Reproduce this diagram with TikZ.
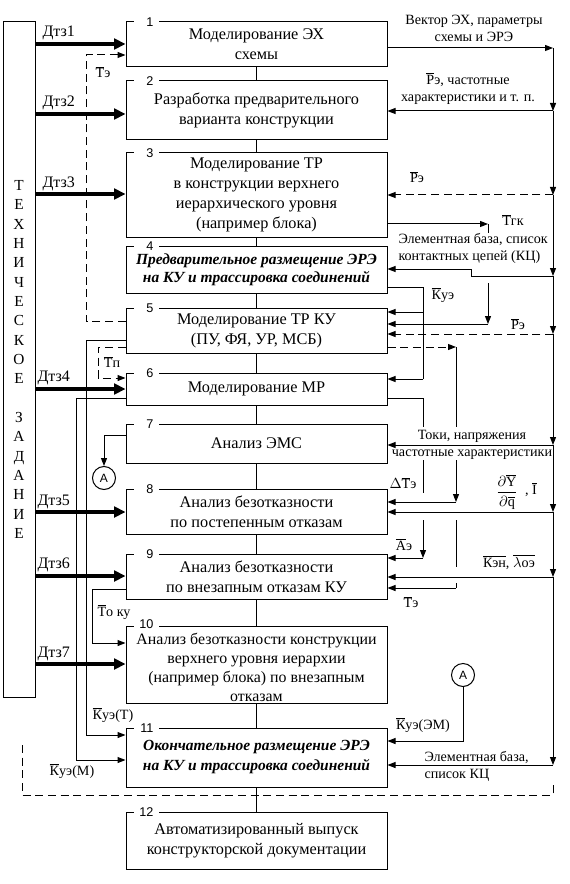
\documentclass[tikz,border=0pt]{standalone}
\usepackage{fontspec}
\setmainfont{Liberation Serif}
\newfontfamily\sansfnt{Liberation Sans}
\usetikzlibrary{arrows.meta}
\newcommand\ovl[1]{$\overline{\hbox{#1}}$}
\newcommand\boxfnt{\fontsize{12.2}{15}\selectfont}
\newcommand\lblfnt{\fontsize{10.6}{12.75}\selectfont}
\newcommand\numfnt{\sansfnt\fontsize{9.5}{10}\selectfont}
\begin{document}
\begin{tikzpicture}[x=0.75pt,y=-0.75pt,
  >={Triangle[length=6pt,width=4.5pt]},
  line width=0.75pt,
  box/.style={draw, minimum width=195.75pt, inner sep=0pt, align=center, font=\boxfnt},
  bibox/.style={box, font=\fontsize{11.6}{13.5}\selectfont\bfseries\itshape},
  num/.style={fill=white, font=\numfnt, text width=11pt, align=right, inner xsep=3.75pt, inner ysep=0pt, text height=6.8pt, text depth=0pt, anchor=east},
  lbl/.style={font=\lblfnt, inner sep=0pt, align=center},
  dtz/.style={font=\fontsize{12}{12}\selectfont, inner sep=0pt, anchor=west},
  dsh/.style={dash pattern=on 6pt off 3.5pt},
  thk/.style={line width=3pt, -{Triangle[length=8.5pt,width=8pt]}},
  circ/.style={draw, circle, minimum size=17.25pt, inner sep=0pt, font=\sansfnt\fontsize{9}{9}\selectfont}
]
\useasboundingbox (0,0) rectangle (570,884);

% ---------- boxes ----------
\node[box, minimum height=33.75pt] (b1) at (256.5,44.5) {Моделирование ЭХ\\схемы};
\node[box, minimum height=44.25pt] (b2) at (256.5,110.5) {Разработка предварительного\\варианта конструкции};
\node[box, minimum height=63pt] (b3) at (256.5,195) {Моделирование ТР\\в конструкции верхнего\\иерархического уровня\\(например блока)};
\node[bibox, minimum height=35.25pt] (b4) at (256.5,269.5) {Предварительное размещение ЭРЭ\\на КУ и трассировка соединений};
\node[box, minimum height=33.75pt] (b5) at (256.5,330.5) {Моделирование ТР КУ\\(ПУ, ФЯ, УР, МСБ)};
\node[box, minimum height=24pt] (b6) at (256.5,389) {Моделирование МР};
\node[box, minimum height=29.25pt] (b7) at (256.5,443.5) {Анализ ЭМС};
\node[box, minimum height=33.75pt] (b8) at (256.5,511.5) {Анализ безотказности\\по постепенным отказам};
\node[box, minimum height=33.75pt] (b9) at (256.5,576.5) {Анализ безотказности\\по внезапным отказам КУ};
\node[draw, minimum width=195.75pt, minimum height=57.75pt, inner sep=0pt] (b10) at (256.5,664.5) {};
\node[align=center, inner sep=0pt, font=\fontsize{11.9}{14.3}\selectfont] (t10) at (256.5,667) {Анализ безотказности конструкции\\верхнего уровня иерархии\\(например блока) по внезапным\\отказам};
\node[bibox, minimum height=44.25pt, font=\fontsize{11.6}{15}\selectfont\bfseries\itshape] (b11) at (256.5,757.5) {Окончательное размещение ЭРЭ\\на КУ и трассировка соединений};
\node[box, minimum height=42.75pt] (b12) at (256.5,840.5) {Автоматизированный выпуск\\конструкторской документации};

% ---------- chain ----------
\draw (b1.south) -- (b2.north);
\draw (b2.south) -- (b3.north);
\draw (b3.south) -- (b4.north);
\draw (b4.south) -- (b5.north);
\draw (b5.south) -- (b6.north);
\draw (b6.south) -- (b7.north);
\draw (b7.south) -- (b8.north);
\draw (b8.south) -- (b9.north);
\draw (b9.south) -- (b10.north);
\draw (b10.south) -- (b11.north);
\draw (b11.south) -- (b12.north);

% ---------- numbers ----------
\node[num] (n1) at (159,22) {1};
\node[num] (n2) at (159,81) {2};
\node[num] (n3) at (159,153) {3};
\node[num] (n4) at (159,246) {4};
\node[num] (n5) at (159,308) {5};
\node[num] (n6) at (159,373) {6};
\node[num] (n7) at (159,424) {7};
\node[num] (n8) at (159,489) {8};
\node[num] (n9) at (159,554) {9};
\node[num] (n10) at (159,624) {10};
\node[num] (n11) at (159,728) {11};
\node[num] (n12) at (159,812) {12};

% ---------- technical task ----------
\node[draw, minimum width=24pt, minimum height=506.25pt, inner sep=0pt, align=center,
      font=\fontsize{11.5}{14.5}\selectfont] (tz) at (19,359.5)
  {Т\\Е\\Х\\Н\\И\\Ч\\Е\\С\\К\\О\\Е\\[14.5pt]З\\А\\Д\\А\\Н\\И\\Е};

\coordinate (d1) at (0,44);
\coordinate (d2) at (0,114);
\coordinate (d3) at (0,194);
\coordinate (d4) at (0,389);
\coordinate (d5) at (0,512);
\coordinate (d6) at (0,576);
\coordinate (d7) at (0,664);

% ---------- left connectors ----------
\coordinate (te1) at (86,321);
\coordinate (te2) at (86,55);
\draw[dsh,->] (te1 -| b5.west) -- (te1) -- (te2) -- (te2 -| b1.west);
\node[lbl] (lte) at (103,72) {\ovl{Т}э};

\coordinate (kt1) at (86,340);
\coordinate (kt2) at (86,735);
\draw[->] (kt1 -| b5.west) -- (kt1) -- (kt2) -- (kt2 -| b11.west);
\node[lbl] (lkt) at (113,715) {\ovl{К}уэ(Т)};

\coordinate (km1) at (76,398);
\coordinate (km2) at (76,760);
\draw[->] (km1 -| b6.west) -- (km1) -- (km2) -- (km2 -| b11.west);
\node[lbl] (lkm) at (72,771) {\ovl{К}уэ(М)};

\coordinate (tp1) at (98,347);
\coordinate (tp2) at (98,378);
\draw[dsh,->] (tp1 -| b5.west) -- (tp1) -- (tp2) -- (tp2 -| b6.west);
\node[lbl] (ltp) at (112,362) {\ovl{Т}п};

\node[circ] (A1) at (104,478) {A};
\coordinate (a1) at (104,435);
\draw[->] (a1 -| b7.west) -- (a1) -- (A1);

\coordinate (to1) at (92,589);
\coordinate (to2) at (92,643);
\draw[->] (to1 -| b9.west) -- (to1) -- (to2) -- (to2 -| b10.west);
\node[lbl] (lto) at (114,612) {\ovl{Т}о ку};

\draw[dsh] (22,745) coordinate (f1) -- (22,795) coordinate (f2) -- (553,795) coordinate (f3) -- (553,783) coordinate (f4);

% thick arrows
\draw[thk] (d1 -| tz.east) -- (d1 -| b1.west);
\draw[thk] (d2 -| tz.east) -- (d2 -| b2.west);
\draw[thk] (d3 -| tz.east) -- (d3 -| b3.west);
\draw[thk] (d4 -| tz.east) -- (d4 -| b6.west);
\draw[thk] (d5 -| tz.east) -- (d5 -| b8.west);
\draw[thk] (d6 -| tz.east) -- (d6 -| b9.west);
\draw[thk] (d7 -| tz.east) -- (d7 -| b10.west);
\node[dtz] (ld1) at (42,33) {Дтз1};
\node[dtz] (ld2) at (42,103) {Дтз2};
\node[dtz] (ld3) at (42,184) {Дтз3};
\node[dtz] (ld4) at (37,378) {Дтз4};
\node[dtz] (ld5) at (37,502) {Дтз5};
\node[dtz] (ld6) at (37,565) {Дтз6};
\node[dtz] (ld7) at (37,654) {Дтз7};

% ---------- right bus ----------
\coordinate (R1) at (553,48);
\coordinate (R2) at (553,111);
\coordinate (R3) at (553,195);
\coordinate (R4) at (553,276);
\coordinate (R5) at (553,334);
\coordinate (R6) at (553,445);
\coordinate (R7) at (553,512);
\coordinate (R8) at (553,577);
\coordinate (R9) at (553,765);
\draw[->] (R1 -| b1.east) -- (R1);
\draw[->] (R1) -- (R2);
\draw[->] (R2) -- (R3);
\draw[->] (R3) -- (R4);
\draw[->] (R4) -- (R5);
\draw[->] (R5) -- (R6);
\draw[->] (R6) -- (R7);
\draw[->] (R7) -- (R8);
\draw[->] (R8) -- (R9);
\draw[->] (R2) -- (R2 -| b2.east);
\draw[dsh,->] (R3) -- (R3 -| b3.east);
\coordinate (s1) at (471,276);
\coordinate (s2) at (471,269);
\draw[->] (R4) -- (s1) -- (s2) -- (s2 -| b4.east);
\draw[dsh,->] (R5) -- (R5 -| b5.east);
\draw[->] (R6) -- (R6 -| b7.east);
\draw[->] (R7) -- (R7 -| b8.east);
\draw[->] (R8) -- (R8 -| b9.east);
\draw[->] (R9) -- (R9 -| b11.east);

\node[lbl] (lr1) at (474,28.5) {Вектор ЭХ, параметры\\схемы и ЭРЭ};
\node[lbl] (lr2) at (468,88.5) {\ovl{Р}э, частотные\\характеристики и т. п.};
\node[lbl] (lr3) at (417,177) {\ovl{Р}э};
\node[lbl, align=left, anchor=west] (lr4) at (398,248.5) {Элементная база, список\\контактных цепей (КЦ)};
\node[lbl] (lr5) at (518,324) {\ovl{Р}э};
\node[lbl] (lr6) at (472,444.5) {Токи, напряжения\\частотные характеристики};
\node[lbl] (lr7) at (507,492) {$\displaystyle\frac{\partial\overline{\mathrm{Y}}}{\partial\overline{\mathrm{q}}}$};
\node[lbl] (lr7b) at (531,490) {, \ovl{I}};
\node[lbl] (lr8) at (509,562) {\ovl{Кэн}, \ovl{$\lambda$оэ}};
\node[lbl, align=left, anchor=west] (lr9) at (424,766) {Элементная база,\\список КЦ};

% Tгк
\coordinate (g0) at (488,224);
\coordinate (g1) at (488,233);
\coordinate (g2) at (488,283);
\coordinate (g3) at (488,324);
\draw[->] (g0 -| b3.east) -- (g0);
\draw (g0) -- (g1);
\draw[->] (g2) -- (g3);
\draw[->] (g3) -- (g3 -| b5.east);
\node[lbl] (lg) at (513,220) {\ovl{Т}гк};

% Kуэ
\coordinate (k0) at (423,287);
\coordinate (k1) at (423,312);
\coordinate (k2) at (423,379);
\draw (k0 -| b4.east) -- (k0) -- (k2);
\draw[->] (k1) -- (k1 -| b5.east);
\draw[->] (k2) -- (k2 -| b6.east);
\node[lbl] (lk) at (443,295) {\ovl{К}уэ};

% from box 6 (Aэ)
\coordinate (m0) at (423,398);
\coordinate (m1) at (423,427);
\coordinate (m2) at (423,460);
\coordinate (m3) at (423,493);
\coordinate (m4) at (423,520);
\coordinate (m5) at (423,558);
\draw (m0 -| b6.east) -- (m0) -- (m1);
\draw (m2) -- (m3);
\draw[->] (m4) -- (m5);
\draw[->] (m5) -- (m5 -| b9.east);
\node[lbl] (la) at (404,545) {\ovl{А}э};

% from box 5 (Tэ)
\coordinate (t0) at (456,347);
\coordinate (t1) at (456,427);
\coordinate (t2) at (456,460);
\coordinate (t3) at (456,502);
\coordinate (t4) at (456,520);
\coordinate (t5) at (456,567);
\coordinate (t6) at (456,583);
\coordinate (t7) at (456,588);
\draw[dsh,->] (t0 -| b5.east) -- (t0);
\draw (t0) -- (t1);
\draw[->] (t2) -- (t3);
\draw[->] (t3) -- (t3 -| b8.east);
\draw (t4) -- (t5);
\draw (t6) -- (t7);
\draw[->] (t7) -- (t7 -| b9.east);
\node[lbl] (ldt) at (403,483) {$\Delta$\ovl{Т}э};
\node[lbl] (lt9) at (411,602) {\ovl{Т}э};

% A (EM)
\node[circ] (A2) at (463,675) {A};
\coordinate (a2) at (463,741);
\draw[->] (A2) -- (a2) -- (a2 -| b11.east);
\node[lbl] (lem) at (423,725) {\ovl{К}уэ(ЭМ)};
\end{tikzpicture}
\end{document}
